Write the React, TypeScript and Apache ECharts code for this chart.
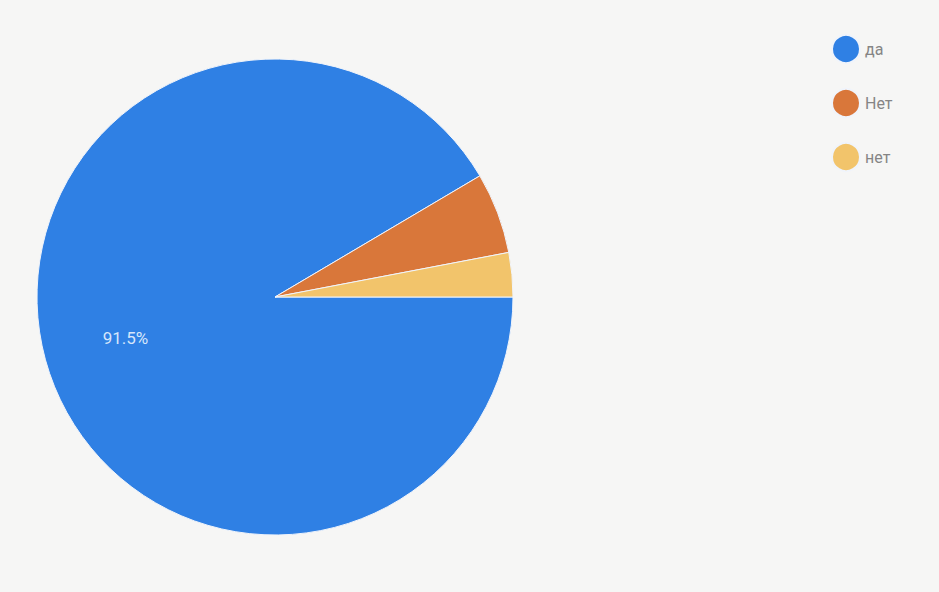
import React, { useEffect, useRef } from "react";
import * as echarts from "echarts";

const categories = ["да", "Нет", "нет"];
const values = [91.5, 5.5, 3.0];
const colors = ["#2f80e4", "#d9773a", "#f2c46b"];

export default function App() {
  const ref = useRef<HTMLDivElement>(null);
  useEffect(() => {
    if (!ref.current) return;
    const chart = echarts.init(ref.current, undefined, { renderer: "svg" });
    const data = categories.map((name, i) => ({ name, value: values[i] }));
    chart.setOption({
      animation: false,
      backgroundColor: "#f6f6f5",
      color: colors,
      legend: {
        orient: "vertical",
        left: 826,
        top: 29,
        itemWidth: 28,
        itemHeight: 28,
        itemGap: 24,
        icon: "circle",
        textStyle: { color: "#858585", fontSize: 16, fontFamily: "Roboto" },
        data: categories,
      },
      series: [
        {
          type: "pie",
          center: [275, 297],
          radius: [0, 238],
          startAngle: 0,
          clockwise: true,
          data,
          label: { show: false },
          labelLine: { show: false },
          itemStyle: { borderColor: "#f0f4fb", borderWidth: 1 },
          silent: true,
        },
        {
          type: "pie",
          center: [275, 297],
          radius: [66, 238],
          startAngle: 0,
          clockwise: true,
          data,
          itemStyle: { color: "rgba(0,0,0,0)" },
          label: {
            show: true,
            position: "inside",
            color: "#d6e6fb",
            fontSize: 17,
            fontFamily: "Roboto",
            formatter: (p: any) => (p.dataIndex === 0 ? p.value.toFixed(1) + "%" : ""),
          },
          labelLine: { show: false },
          silent: true,
          legendHoverLink: false,
        },
      ],
    });
    return () => chart.dispose();
  }, []);
  return (
    <div
      ref={ref}
      style={{ position: "fixed", left: 0, top: 0, width: 939, height: 592 }}
    />
  );
}
